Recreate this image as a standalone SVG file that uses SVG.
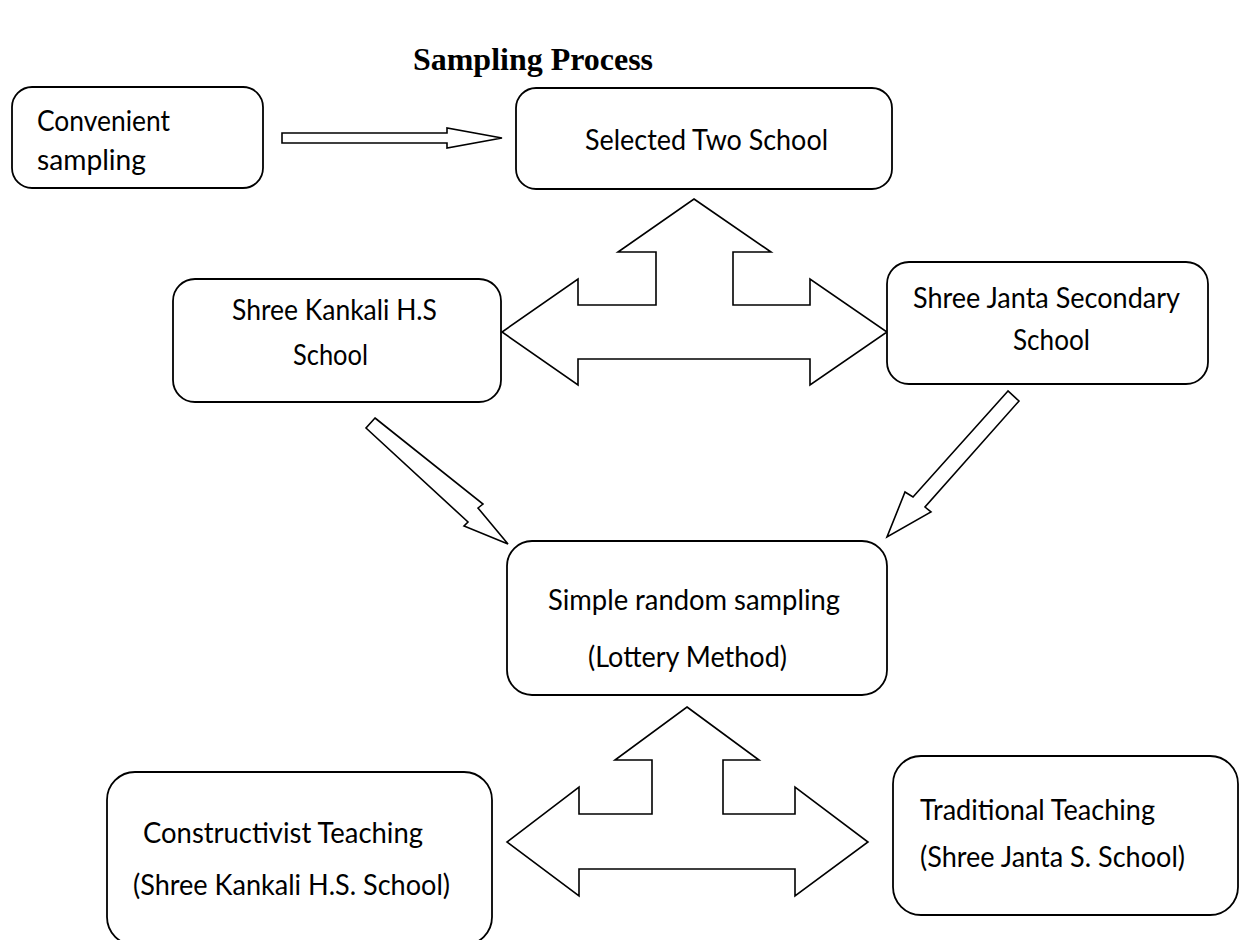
<svg xmlns="http://www.w3.org/2000/svg" width="1243" height="940" viewBox="0 0 1243 940">
<style>
.box{fill:#fff;stroke:#000;stroke-width:1.8}
.arr{fill:#fff;stroke:#000;stroke-width:1.6;stroke-linejoin:miter}
.t{font-family:Lato,"Liberation Sans",sans-serif;font-size:29px;fill:#000}
.title{font-family:"Liberation Serif","Times New Roman",serif;font-weight:bold;font-size:32px;fill:#000}
</style>
<rect width="1243" height="940" fill="#fff"/>
<text class="title" x="413" y="70" textLength="240" lengthAdjust="spacingAndGlyphs">Sampling Process</text>

<g id="connectors">
  <polygon class="arr" points="282,133 447,133 447,128 502,138 447,148 447,143 282,143"/>
  <polygon class="arr" points="694,199 771,252 733,252 733,305 810,305 810,279 887,332 810,385 810,359 578,359 578,385 502,332 578,279 578,305 656,305 656,252 618,252"/>
  <polygon class="arr" points="375,418 483,504 478,508 508,544 464,526 468,522 366,428"/>
  <polygon class="arr" points="1008,391 913,497 905,492 887,537 931,512 925,507 1019,401"/>
  <polygon class="arr" points="687,707 759,760 723,760 723,814 795,814 795,787 868,842 795,896 795,869 579,869 579,896 507,842 579,787 579,814 652,814 652,760 615,760"/>
</g>

<g id="n-convenient">
  <rect class="box" x="12" y="87" width="251" height="101" rx="20"/>
  <text class="t" x="37" y="131" textLength="133" lengthAdjust="spacingAndGlyphs">Convenient</text>
  <text class="t" x="37" y="170" textLength="109" lengthAdjust="spacingAndGlyphs">sampling</text>
</g>

<g id="n-selected">
  <rect class="box" x="516" y="88" width="376" height="101" rx="20"/>
  <text class="t" x="585" y="150" textLength="243" lengthAdjust="spacingAndGlyphs">Selected Two School</text>
</g>

<g id="n-kankali">
  <rect class="box" x="173" y="279" width="328" height="123" rx="22"/>
  <text class="t" x="232" y="320" textLength="205" lengthAdjust="spacingAndGlyphs">Shree Kankali H.S</text>
  <text class="t" x="293" y="365" textLength="75" lengthAdjust="spacingAndGlyphs">School</text>
</g>

<g id="n-janta">
  <rect class="box" x="887" y="262" width="321" height="122" rx="22"/>
  <text class="t" x="913" y="308" textLength="267" lengthAdjust="spacingAndGlyphs">Shree Janta Secondary</text>
  <text class="t" x="1013" y="350" textLength="77" lengthAdjust="spacingAndGlyphs">School</text>
</g>

<g id="n-random">
  <rect class="box" x="507" y="541" width="380" height="154" rx="25"/>
  <text class="t" x="548" y="610" textLength="292" lengthAdjust="spacingAndGlyphs">Simple random sampling</text>
  <text class="t" x="588" y="667" textLength="199" lengthAdjust="spacingAndGlyphs">(Lottery Method)</text>
</g>

<g id="n-constructivist">
  <rect class="box" x="107" y="772" width="385" height="173" rx="28"/>
  <text class="t" x="143" y="843" textLength="280" lengthAdjust="spacingAndGlyphs">Constructivist Teaching</text>
  <text class="t" x="133" y="895" textLength="317" lengthAdjust="spacingAndGlyphs">(Shree Kankali H.S. School)</text>
</g>

<g id="n-traditional">
  <rect class="box" x="893" y="756" width="345" height="159" rx="28"/>
  <text class="t" x="920" y="820" textLength="235" lengthAdjust="spacingAndGlyphs">Traditional Teaching</text>
  <text class="t" x="920" y="867" textLength="265" lengthAdjust="spacingAndGlyphs">(Shree Janta S. School)</text>
</g>
</svg>
